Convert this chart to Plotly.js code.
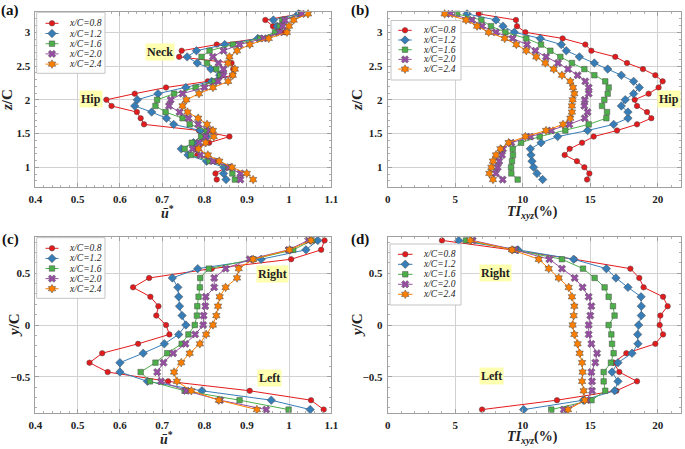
<!DOCTYPE html>
<html>
<head>
<meta charset="utf-8">
<script src="https://cdn.plot.ly/plotly-3.0.1.min.js"></script>
<style>html,body{margin:0;padding:0;background:#fff;}#chart{width:685px;height:449px;}</style>
</head>
<body>
<div id="chart"></div>
<script>
// ---------------- DATA ----------------
const seriesNames = ['x/C=0.8', 'x/C=1.2', 'x/C=1.6', 'x/C=2.0', 'x/C=2.4'];

// vertical positions z/C (panels a, b), bottom -> top
const zLevels = [0.818, 0.909, 1.0, 1.091, 1.182, 1.273, 1.364, 1.455, 1.545, 1.636,
  1.727, 1.818, 1.909, 2.0, 2.091, 2.182, 2.273, 2.364, 2.455, 2.545,
  2.636, 2.727, 2.818, 2.909, 3.0, 3.091, 3.182, 3.273];

// lateral positions y/C (panels c, d), bottom -> top
const yLevels = [-0.818, -0.727, -0.636, -0.545, -0.455, -0.364, -0.273, -0.182, -0.091, 0,
  0.091, 0.182, 0.273, 0.364, 0.455, 0.545, 0.636, 0.727, 0.818];

// (a) mean streamwise velocity u* vs z/C
const uZ_08 = [0.829, 0.826, 0.851, 0.829, 0.783, 0.778, 0.811, 0.859, 0.787, 0.657, 0.649, 0.640, 0.580, 0.568, 0.635, 0.709, 0.808, 0.866, 0.868, 0.864, 0.740, 0.746, 0.829, 0.928, 0.990, 0.962, 0.944, 1.026];
const uZ_12 = [0.851, 0.845, 0.846, 0.805, 0.761, 0.745, 0.774, 0.805, 0.790, 0.727, 0.710, 0.675, 0.635, 0.641, 0.690, 0.756, 0.817, 0.836, 0.815, 0.783, 0.759, 0.781, 0.848, 0.926, 0.971, 0.972, 0.963, 1.022];
const uZ_16 = [0.872, 0.866, 0.856, 0.812, 0.768, 0.753, 0.770, 0.792, 0.805, 0.765, 0.748, 0.708, 0.684, 0.688, 0.728, 0.779, 0.824, 0.837, 0.828, 0.806, 0.793, 0.812, 0.867, 0.932, 0.967, 0.978, 0.984, 1.028];
const uZ_20 = [0.885, 0.885, 0.858, 0.820, 0.790, 0.772, 0.787, 0.803, 0.812, 0.785, 0.762, 0.741, 0.716, 0.720, 0.748, 0.800, 0.832, 0.845, 0.845, 0.833, 0.820, 0.845, 0.883, 0.940, 0.978, 0.985, 0.990, 1.030];
const uZ_24 = [0.915, 0.900, 0.865, 0.835, 0.808, 0.786, 0.803, 0.822, 0.820, 0.806, 0.785, 0.760, 0.748, 0.757, 0.787, 0.820, 0.856, 0.867, 0.872, 0.856, 0.859, 0.877, 0.907, 0.952, 0.995, 1.000, 1.011, 1.045];

// (b) turbulence intensity TIxyz (%) vs z/C
const tiZ_08 = [14.77, 14.94, 14.57, 14.02, 13.11, 13.48, 14.40, 15.26, 16.99, 18.47, 19.53, 19.21, 18.47, 18.30, 19.33, 20.07, 20.37, 19.83, 18.91, 17.73, 16.86, 15.09, 14.64, 12.96, 10.20, 9.58, 9.50, 6.74];
const tiZ_12 = [11.48, 11.06, 10.81, 10.69, 10.62, 10.57, 11.36, 12.59, 14.81, 16.74, 17.80, 17.80, 17.31, 17.60, 18.22, 18.64, 18.22, 17.31, 16.30, 15.31, 14.20, 13.23, 12.86, 11.31, 9.38, 8.54, 8.02, 5.88];
const tiZ_16 = [9.63, 9.16, 9.14, 9.21, 9.28, 9.26, 9.88, 11.26, 13.16, 14.89, 16.20, 16.25, 15.88, 16.05, 16.30, 16.37, 16.12, 15.31, 14.57, 13.65, 12.79, 12.05, 11.36, 10.27, 8.72, 7.65, 6.94, 5.14];
const tiZ_20 = [8.52, 8.02, 8.15, 8.27, 8.47, 8.54, 9.16, 10.57, 12.12, 13.46, 14.60, 14.81, 14.57, 14.60, 14.89, 14.89, 14.64, 14.07, 13.36, 12.62, 11.73, 10.94, 10.32, 9.26, 8.02, 6.99, 6.25, 4.64];
const tiZ_24 = [7.80, 7.53, 7.68, 7.80, 8.02, 8.35, 8.96, 10.20, 11.73, 12.99, 13.53, 13.65, 13.65, 13.70, 13.83, 13.73, 13.53, 12.91, 12.30, 11.68, 11.01, 10.27, 9.53, 8.67, 7.48, 6.62, 5.80, 4.22];

// (c) mean streamwise velocity u* vs y/C
const uY_08 = [1.082, 1.052, 0.907, 0.714, 0.571, 0.528, 0.558, 0.643, 0.717, 0.709, 0.686, 0.691, 0.672, 0.631, 0.669, 0.817, 1.005, 1.076, 1.084];
const uY_12 = [1.050, 0.958, 0.794, 0.665, 0.600, 0.600, 0.655, 0.705, 0.739, 0.756, 0.747, 0.741, 0.739, 0.737, 0.724, 0.784, 0.934, 1.040, 1.068];
const uY_16 = [0.999, 0.883, 0.753, 0.671, 0.649, 0.684, 0.712, 0.746, 0.762, 0.777, 0.782, 0.783, 0.786, 0.789, 0.790, 0.810, 0.915, 1.010, 1.055];
const uY_20 = [0.946, 0.837, 0.757, 0.697, 0.688, 0.703, 0.726, 0.755, 0.778, 0.797, 0.798, 0.802, 0.803, 0.823, 0.823, 0.850, 0.907, 0.999, 1.045];
const uY_24 = [0.924, 0.834, 0.769, 0.735, 0.728, 0.745, 0.765, 0.789, 0.804, 0.820, 0.828, 0.832, 0.836, 0.850, 0.877, 0.881, 0.915, 1.001, 1.052];

// (d) turbulence intensity TIxyz (%) vs y/C
const tiY_08 = [6.99, 12.54, 16.94, 18.47, 17.16, 16.74, 17.68, 19.83, 20.40, 20.15, 20.20, 20.74, 20.40, 18.96, 18.64, 17.98, 13.83, 9.16, 4.02];
const tiY_12 = [10.07, 14.50, 16.81, 17.06, 16.62, 17.06, 18.10, 18.54, 18.52, 18.59, 18.79, 18.79, 18.77, 17.80, 16.91, 16.20, 13.78, 9.65, 5.26];
const tiY_16 = [12.12, 15.10, 16.12, 16.00, 16.00, 16.54, 16.74, 16.62, 16.57, 16.37, 16.81, 16.69, 16.37, 16.07, 15.33, 14.47, 12.91, 9.46, 5.80];
const tiY_20 = [13.04, 14.75, 15.14, 15.14, 15.09, 15.38, 15.51, 15.09, 14.89, 14.89, 15.01, 15.09, 14.89, 14.44, 13.85, 12.91, 11.98, 9.41, 6.30];
const tiY_24 = [13.36, 14.60, 14.52, 14.40, 14.44, 14.40, 14.22, 14.07, 13.83, 13.70, 13.78, 13.83, 13.65, 13.41, 12.67, 11.93, 11.19, 9.21, 6.12];

const xTicksU = [0.4, 0.5, 0.6, 0.7, 0.8, 0.9, 1.0, 1.1];
const xTicksTI = [0, 5, 10, 15, 20];
const zTicks = [1, 1.5, 2, 2.5, 3];
const yTicks = [-0.5, 0, 0.5];

// ---------------- STYLE / LAYOUT ----------------
const W = 685, H = 449;
const px = x => x / W;
const py = y => 1 - y / H;
const SERIF = 'Liberation Serif, Times New Roman, serif';
const colors = ['#e41a1c', '#377eb8', '#4daf4a', '#984ea3', '#ff7f00'];
const symbols = ['circle', 'diamond', 'square', 'x', 'hexagram'];
const msizes = [5.5, 6.5, 5.5, 6.5, 6.5];

const panels = [
  {id: '', series: [uZ_08, uZ_12, uZ_16, uZ_20, uZ_24], levels: zLevels,
   xd: [35.4, 331.3], yd: [11.7, 187], xr: [0.4, 1.1], yr: [0.708, 3.305], xt: xTicksU, yt: zTicks, xm: 0.02, ym: 0.1},
  {id: '2', series: [tiZ_08, tiZ_12, tiZ_16, tiZ_20, tiZ_24], levels: zLevels,
   xd: [387.7, 681], yd: [11.7, 187], xr: [0, 21.73], yr: [0.708, 3.305], xt: xTicksTI, yt: zTicks, xm: 1, ym: 0.1},
  {id: '3', series: [uY_08, uY_12, uY_16, uY_20, uY_24], levels: yLevels,
   xd: [35.4, 331.3], yd: [236.7, 412.7], xr: [0.4, 1.1], yr: [-0.848, 0.854], xt: xTicksU, yt: yTicks, xm: 0.02, ym: 0.1},
  {id: '4', series: [tiY_08, tiY_12, tiY_16, tiY_20, tiY_24], levels: yLevels,
   xd: [387.7, 681], yd: [236.7, 412.7], xr: [0, 21.73], yr: [-0.848, 0.854], xt: xTicksTI, yt: yTicks, xm: 1, ym: 0.1}
];

const traces = [];
const layout = {
  width: W, height: H,
  margin: {l: 0, r: 0, t: 0, b: 0, pad: 0},
  paper_bgcolor: '#ffffff',
  plot_bgcolor: 'rgba(0,0,0,0)',
  showlegend: false,
  font: {family: SERIF, color: '#222'},
  annotations: [],
  shapes: []
};

function axisCommon(range, ticks, minorDtick) {
  return {
    range: range, autorange: false, fixedrange: true,
    tickmode: 'array', tickvals: ticks,
    showgrid: true, gridcolor: '#d2d2d2', gridwidth: 1,
    zeroline: false,
    showline: true, linecolor: '#a0a0a0', linewidth: 1, mirror: 'ticks',
    ticks: 'inside', ticklen: 4, tickcolor: '#a0a0a0', tickwidth: 1,
    minor: {dtick: minorDtick, ticks: 'inside', ticklen: 2, tickcolor: '#b0b0b0', showgrid: false},
    tickfont: {family: SERIF, size: 11, color: '#222', weight: 'bold'},
    ticklabelstandoff: 2
  };
}

panels.forEach((p) => {
  const xa = 'xaxis' + p.id, ya = 'yaxis' + p.id;
  layout[xa] = Object.assign(axisCommon(p.xr, p.xt, p.xm), {
    domain: [px(p.xd[0]), px(p.xd[1])], anchor: 'y' + p.id
  });
  layout[ya] = Object.assign(axisCommon(p.yr, p.yt, p.ym), {
    domain: [py(p.yd[1]), py(p.yd[0])], anchor: 'x' + p.id
  });
  p.series.forEach((vals, s) => {
    traces.push({
      type: 'scatter', mode: 'lines+markers',
      x: vals, y: p.levels,
      xaxis: 'x' + p.id, yaxis: 'y' + p.id,
      name: seriesNames[s],
      line: {color: colors[s], width: 1},
      marker: {symbol: symbols[s], size: msizes[s], color: colors[s],
               line: {color: '#4a4a4a', width: 0.5}},
      cliponaxis: false,
      hoverinfo: 'skip'
    });
  });
});

// ---------- custom compact legends (drawn on a pixel-space overlay axis) ----------
layout.xaxis5 = {domain: [0, 1], range: [0, W], visible: false, fixedrange: true, anchor: 'y5'};
layout.yaxis5 = {domain: [0, 1], range: [H, 0], visible: false, fixedrange: true, anchor: 'x5'};

const legendBoxes = [
  {left: 36.7, top: 12.3, right: 105, bottom: 73.3, row0: 23.3, gap: 10.2, line: [45.5, 58.5], textX: 66.5},
  {left: 391, top: 20.5, right: 461, bottom: 80, row0: 30.3, gap: 9.7, line: [398.3, 411.7], textX: 420.5},
  {left: 36.7, top: 237.7, right: 105, bottom: 298.3, row0: 248.3, gap: 10.1, line: [45.5, 58.5], textX: 66.5},
  {left: 390, top: 244, right: 461, bottom: 305, row0: 254.3, gap: 10.0, line: [398, 412.5], textX: 420.5}
];

legendBoxes.forEach((b) => {
  traces.push({
    type: 'scatter', mode: 'lines', xaxis: 'x5', yaxis: 'y5',
    x: [b.left, b.right, b.right, b.left, b.left],
    y: [b.top, b.top, b.bottom, b.bottom, b.top],
    fill: 'toself', fillcolor: '#ffffff',
    line: {color: '#c4c4c4', width: 1}, hoverinfo: 'skip'
  });
  seriesNames.forEach((name, s) => {
    const ry = b.row0 + s * b.gap;
    const mid = (b.line[0] + b.line[1]) / 2;
    traces.push({
      type: 'scatter', mode: 'lines', xaxis: 'x5', yaxis: 'y5',
      x: [b.line[0], b.line[1]], y: [ry, ry],
      line: {color: colors[s], width: 1}, hoverinfo: 'skip'
    });
    traces.push({
      type: 'scatter', mode: 'markers', xaxis: 'x5', yaxis: 'y5',
      x: [mid], y: [ry],
      marker: {symbol: symbols[s], size: msizes[s], color: colors[s],
               line: {color: '#4a4a4a', width: 0.5}}, hoverinfo: 'skip'
    });
    layout.annotations.push({
      xref: 'paper', yref: 'paper', x: px(b.textX), y: py(ry),
      xanchor: 'left', yanchor: 'middle', showarrow: false,
      text: '<i>' + name + '</i>',
      font: {family: SERIF, size: 9.5, color: '#222'}
    });
  });
});

// ---------- titles and labels ----------
function ann(text, x, y, opts) {
  layout.annotations.push(Object.assign({
    xref: 'paper', yref: 'paper', x: px(x), y: py(y),
    xanchor: 'center', yanchor: 'middle', showarrow: false, text: text,
    font: {family: SERIF, size: 14, color: '#222'}
  }, opts || {}));
}
const uTitle = '<b><i>ū</i><sup>*</sup></b>';
const tiTitle = '<b><i>TI<sub>xyz</sub></i>(%)</b>';
ann(uTitle, 167, 212);
ann(tiTitle, 532, 212);
ann(uTitle, 166, 438);
ann(tiTitle, 532, 437);
ann('<b><i>z</i>/C</b>', 7, 100, {textangle: -90, font: {family: SERIF, size: 15, color: '#222'}});
ann('<b><i>z</i>/C</b>', 357, 100, {textangle: -90, font: {family: SERIF, size: 15, color: '#222'}});
ann('<b><i>y</i>/C</b>', 14, 325, {textangle: -90, font: {family: SERIF, size: 15, color: '#222'}});
ann('<b><i>y</i>/C</b>', 357, 325, {textangle: -90, font: {family: SERIF, size: 15, color: '#222'}});

const pl = {font: {family: SERIF, size: 15, color: '#111', weight: 'bold'}};
ann('(a)', 10, 10, pl);
ann('(b)', 360, 10, pl);
ann('(c)', 10, 239, pl);
ann('(d)', 360, 239, pl);

const tag = {bgcolor: '#ffffb0', borderpad: 1, font: {family: SERIF, size: 12, color: '#222', weight: 'bold'}};
ann('Neck', 159.5, 52.3, tag);
ann('Hip', 91, 99.3, tag);
ann('Hip', 668.5, 99.3, tag);
ann('Right', 272.7, 274.3, tag);
ann('Left', 269.3, 377.7, tag);
ann('Right', 495, 272.5, tag);
ann('Left', 491.5, 375.7, tag);

Plotly.newPlot('chart', traces, layout, {staticPlot: true, displayModeBar: false});
</script>
</body>
</html>
